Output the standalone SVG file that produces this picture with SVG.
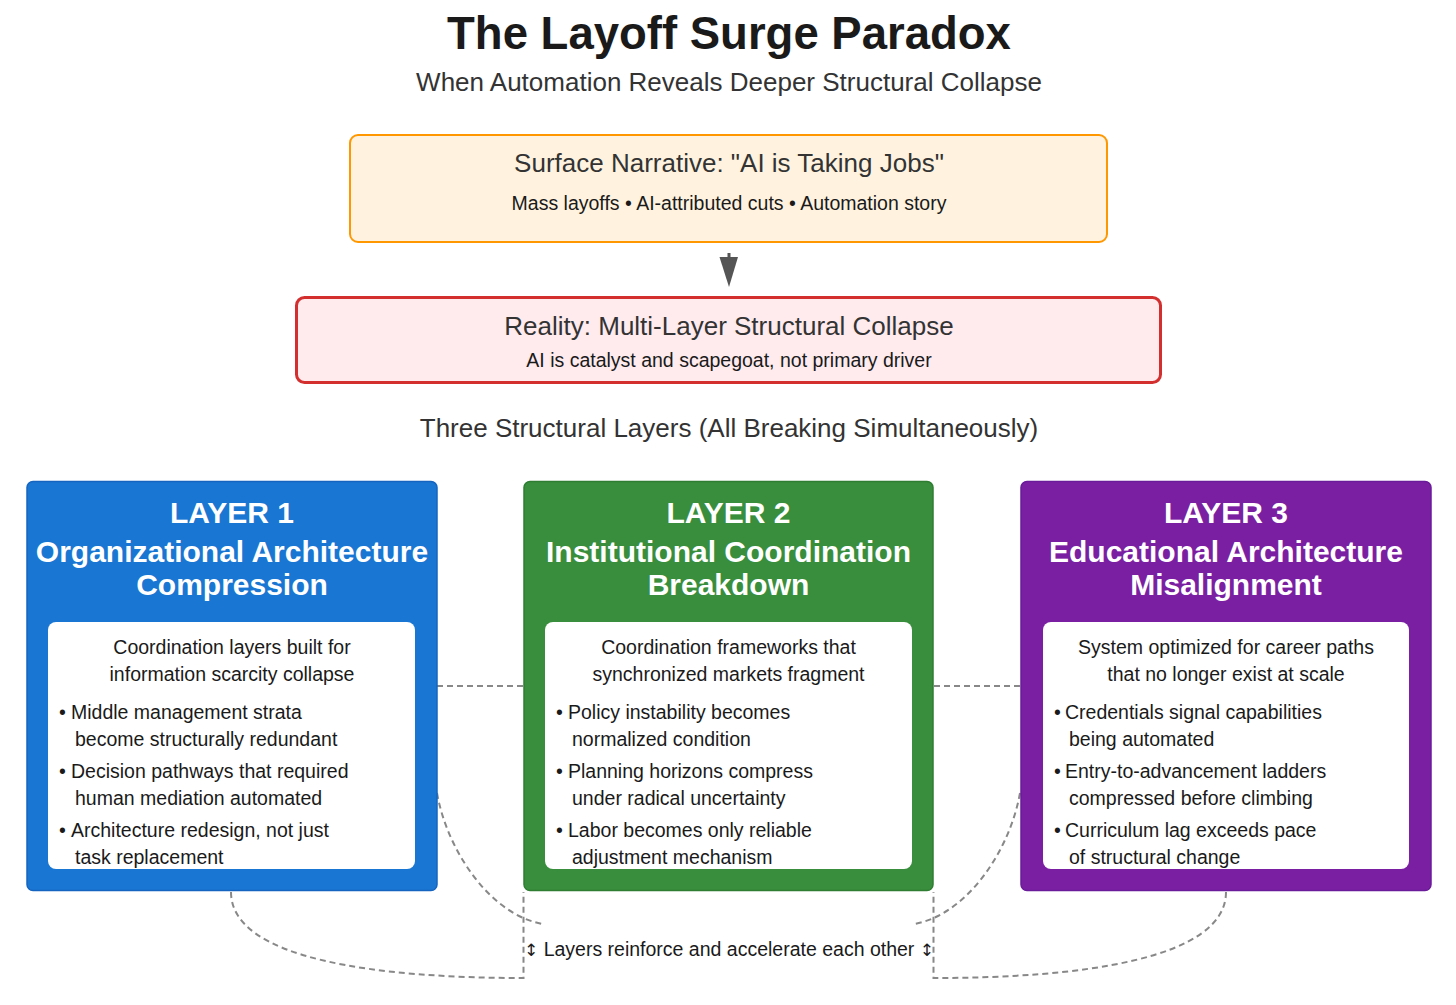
<svg xmlns="http://www.w3.org/2000/svg" width="1456" height="1005" viewBox="0 0 1456 1005">
<defs>
<style>
text{font-family:"Liberation Sans",Arial,Helvetica,sans-serif}
.title{font-size:45.5px;font-weight:bold;fill:#1a1a1a;text-anchor:middle}
.sub{font-size:26px;fill:#333;text-anchor:middle}
.h{font-size:26px;fill:#333;text-anchor:middle}
.s{font-size:19.5px;fill:#1a1a1a;text-anchor:middle}
.lh{font-size:30px;font-weight:bold;fill:#fff;text-anchor:middle}
.b{font-size:19.5px;fill:#1a1a1a}
.c{font-size:19.5px;fill:#1a1a1a;text-anchor:middle}
.arr{font-family:"DejaVu Sans",sans-serif;font-size:17px}
.inner{fill:#fff}
.dash{fill:none;stroke:#888;stroke-width:2;stroke-dasharray:6 4}
</style>
</defs>
<rect width="1456" height="1005" fill="#fff"/>
<text class="title" x="729" y="49">The Layoff Surge Paradox</text>
<text class="sub" x="729" y="91">When Automation Reveals Deeper Structural Collapse</text>

<g id="connectors">
<line x1="729" y1="253" x2="729" y2="258" stroke="#555" stroke-width="3"/>
<polygon points="719.5,257 738,257 729,287" fill="#555"/>
<line class="dash" x1="437" y1="686" x2="523" y2="686"/>
<line class="dash" x1="934" y1="686" x2="1020" y2="686"/>
<path class="dash" d="M437,793 C447,850 490,915 543,924"/>
<path class="dash" d="M1020,793 C1010,850 967,915 914,924"/>
<path class="dash" d="M231,892 C231,960 380,978 523.5,978 L523.5,892"/>
<path class="dash" d="M1226,892 C1226,960 1077,978 933.5,978 L933.5,892"/>
</g>

<g id="surface">
<rect x="350" y="135" width="757" height="107" rx="8" fill="#fff3e0" stroke="#ff9800" stroke-width="2"/>
<text class="h" x="729" y="172">Surface Narrative: "AI is Taking Jobs"</text>
<text class="s" x="729" y="210">Mass layoffs • AI-attributed cuts • Automation story</text>
</g>

<g id="reality">
<rect x="296.5" y="297.5" width="864" height="85" rx="8" fill="#ffebee" stroke="#d32f2f" stroke-width="3"/>
<text class="h" x="729" y="335">Reality: Multi-Layer Structural Collapse</text>
<text class="s" x="729" y="367">AI is catalyst and scapegoat, not primary driver</text>
</g>

<g id="three-layers-label">
<text class="h" x="729" y="437">Three Structural Layers (All Breaking Simultaneously)</text>
</g>

<g id="layer1">
<rect x="27" y="481.5" width="410" height="409" rx="6" fill="#1976d2" stroke="#1565c0" stroke-width="1.5"/>
<text class="lh" x="232" y="523">LAYER 1</text>
<text class="lh" x="232" y="562">Organizational Architecture</text>
<text class="lh" x="232" y="595">Compression</text>
<rect class="inner" x="48" y="622" width="367" height="247" rx="8"/>
<text class="c" x="232" y="654">Coordination layers built for</text>
<text class="c" x="232" y="681">information scarcity collapse</text>
<text class="b" x="59" y="719">•<tspan x="71">Middle management strata</tspan></text>
<text class="b" x="75" y="746">become structurally redundant</text>
<text class="b" x="59" y="778">•<tspan x="71">Decision pathways that required</tspan></text>
<text class="b" x="75" y="805">human mediation automated</text>
<text class="b" x="59" y="837">•<tspan x="71">Architecture redesign, not just</tspan></text>
<text class="b" x="75" y="864">task replacement</text>
</g>

<g id="layer2">
<rect x="524" y="481.5" width="409" height="409" rx="6" fill="#388e3c" stroke="#2e7d32" stroke-width="1.5"/>
<text class="lh" x="728.5" y="523">LAYER 2</text>
<text class="lh" x="728.5" y="562">Institutional Coordination</text>
<text class="lh" x="728.5" y="595">Breakdown</text>
<rect class="inner" x="545" y="622" width="367" height="247" rx="8"/>
<text class="c" x="728.5" y="654">Coordination frameworks that</text>
<text class="c" x="728.5" y="681">synchronized markets fragment</text>
<text class="b" x="556" y="719">•<tspan x="568">Policy instability becomes</tspan></text>
<text class="b" x="572" y="746">normalized condition</text>
<text class="b" x="556" y="778">•<tspan x="568">Planning horizons compress</tspan></text>
<text class="b" x="572" y="805">under radical uncertainty</text>
<text class="b" x="556" y="837">•<tspan x="568">Labor becomes only reliable</tspan></text>
<text class="b" x="572" y="864">adjustment mechanism</text>
</g>

<g id="layer3">
<rect x="1021" y="481.5" width="410" height="409" rx="6" fill="#7b1fa2" stroke="#6a1b9a" stroke-width="1.5"/>
<text class="lh" x="1226" y="523">LAYER 3</text>
<text class="lh" x="1226" y="562">Educational Architecture</text>
<text class="lh" x="1226" y="595">Misalignment</text>
<rect class="inner" x="1043" y="622" width="366" height="247" rx="8"/>
<text class="c" x="1226" y="654">System optimized for career paths</text>
<text class="c" x="1226" y="681">that no longer exist at scale</text>
<text class="b" x="1054" y="719">•<tspan x="1065">Credentials signal capabilities</tspan></text>
<text class="b" x="1069" y="746">being automated</text>
<text class="b" x="1054" y="778">•<tspan x="1065">Entry-to-advancement ladders</tspan></text>
<text class="b" x="1069" y="805">compressed before climbing</text>
<text class="b" x="1054" y="837">•<tspan x="1065">Curriculum lag exceeds pace</tspan></text>
<text class="b" x="1069" y="864">of structural change</text>
</g>

<g id="reinforce-label">
<text class="c" x="729" y="956"><tspan class="arr">↕</tspan> Layers reinforce and accelerate each other <tspan class="arr">↕</tspan></text>
</g>
</svg>
